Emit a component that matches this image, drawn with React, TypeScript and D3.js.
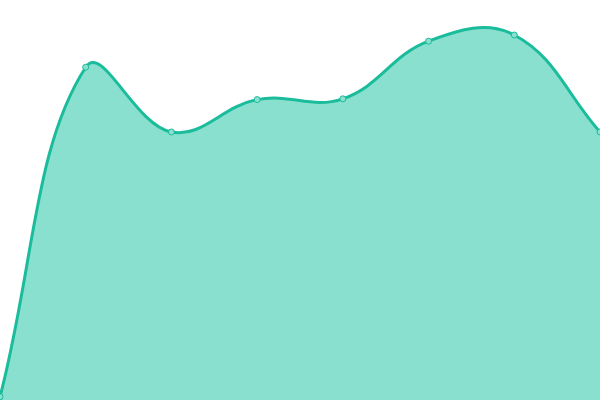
import React from "react";
import * as d3 from "d3";

const categories = ["A", "B", "C", "D", "E", "F", "G", "H"];
const values = [0.8, 83.2, 67, 75.1, 75.3, 89.7, 91.25, 67];
const tension = 0.4;

const W = 600;
const H = 400;

type P = [number, number];

function controlPoints(pts: P[], t: number) {
  return pts.map((p, i) => {
    const prev = pts[Math.max(0, i - 1)];
    const next = pts[Math.min(pts.length - 1, i + 1)];
    const d01 = Math.hypot(p[0] - prev[0], p[1] - prev[1]);
    const d12 = Math.hypot(next[0] - p[0], next[1] - p[1]);
    let s01 = d01 / (d01 + d12);
    let s12 = d12 / (d01 + d12);
    s01 = isNaN(s01) ? 0 : s01;
    s12 = isNaN(s12) ? 0 : s12;
    const fa = t * s01;
    const fb = t * s12;
    const cpPrev: P = [p[0] - fa * (next[0] - prev[0]), p[1] - fa * (next[1] - prev[1])];
    const cpNext: P = [p[0] + fb * (next[0] - prev[0]), p[1] + fb * (next[1] - prev[1])];
    return { p, cpPrev, cpNext };
  });
}

function splinePath(pts: P[], t: number, closeTo?: number) {
  const cps = controlPoints(pts, t);
  const path = d3.path();
  path.moveTo(pts[0][0], pts[0][1]);
  for (let i = 1; i < cps.length; i++) {
    const a = cps[i - 1];
    const b = cps[i];
    path.bezierCurveTo(a.cpNext[0], a.cpNext[1], b.cpPrev[0], b.cpPrev[1], b.p[0], b.p[1]);
  }
  if (closeTo !== undefined) {
    path.lineTo(pts[pts.length - 1][0], closeTo);
    path.lineTo(pts[0][0], closeTo);
    path.closePath();
  }
  return path.toString();
}

export default function App() {
  const x = d3.scalePoint<string>().domain(categories).range([0, W]);
  const y = d3.scaleLinear().domain([0, 100]).range([H, 0]);
  const pts: P[] = categories.map((c, i) => [x(c)!, y(values[i])]);

  return (
    <svg
      width={W}
      height={H}
      style={{ position: "absolute", left: 0, top: 0, background: "#fff" }}
    >
      <path d={splinePath(pts, tension, y(0))} fill="#89e0cf" />
      <path d={splinePath(pts, tension)} fill="none" stroke="#1abc9c" strokeWidth={3} />
      {pts.map((p, i) => (
        <circle
          key={categories[i]}
          cx={p[0]}
          cy={p[1]}
          r={3}
          fill="#89e0cf"
          stroke="#1abc9c"
          strokeWidth={1}
        />
      ))}
    </svg>
  );
}
